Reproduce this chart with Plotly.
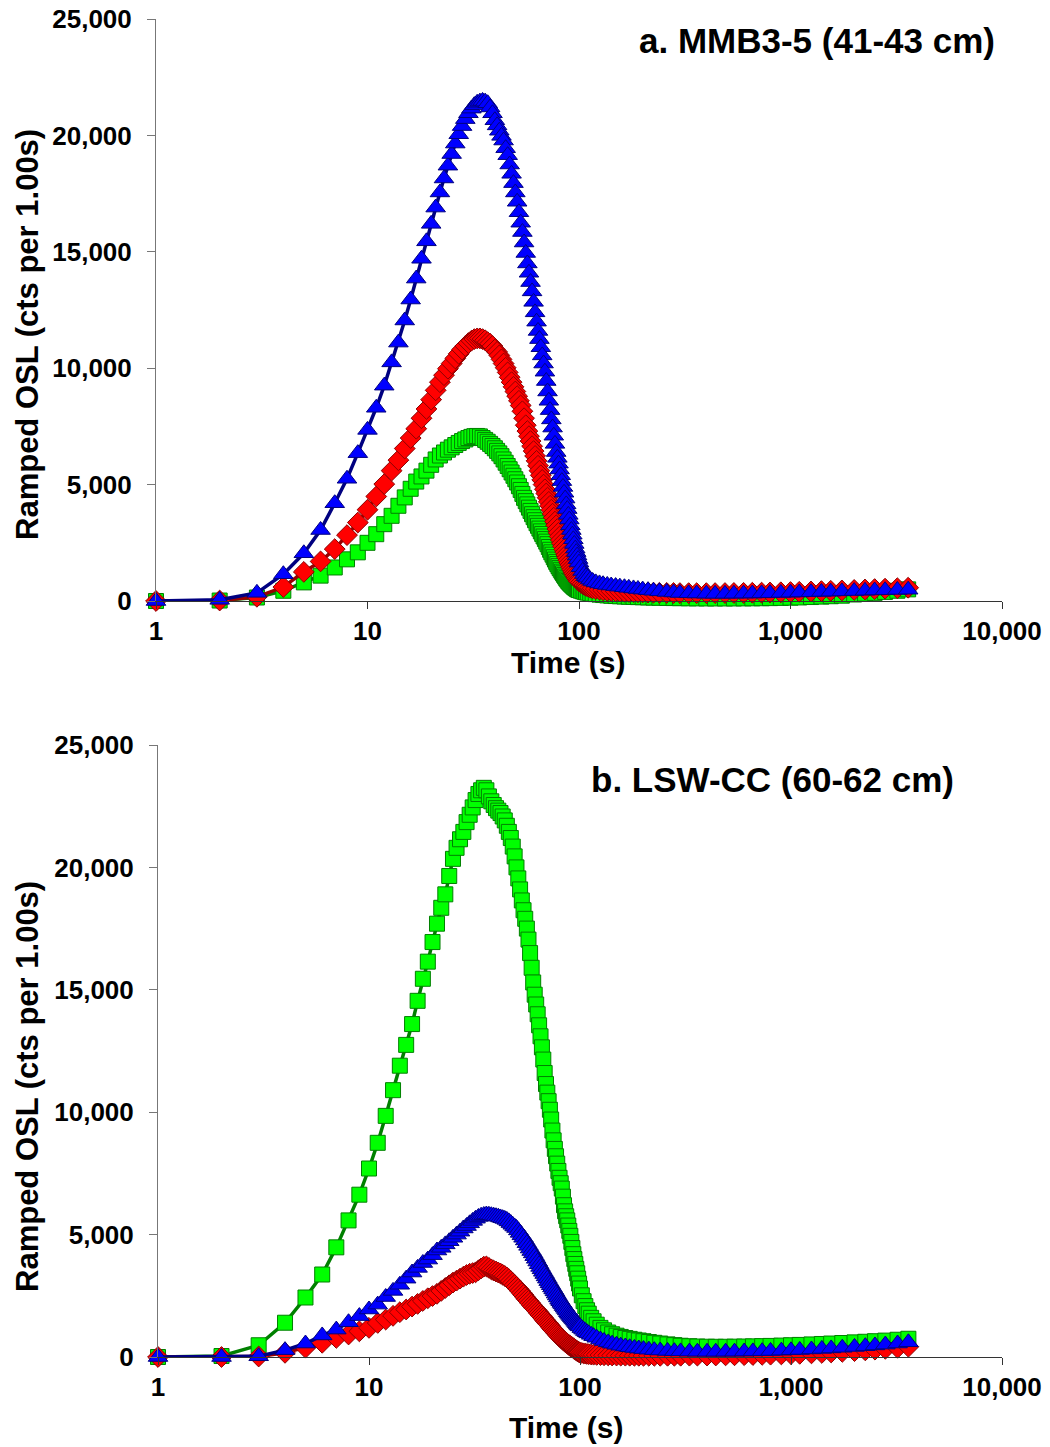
import plotly.graph_objects as go

# ---------------- data ----------------
# time in seconds: every second 1..100, then a sparser tail to 3600 s
T_MAIN = list(range(1, 101))
T_TAIL = [102, 104, 106, 108, 110, 113, 116, 120, 125, 130,
          136, 142, 149, 156, 164, 172, 181, 190, 200, 212,
          225, 240, 260, 280, 300, 330, 360, 400, 440, 490,
          540, 600, 660, 730, 800, 900, 1000, 1100, 1250, 1400,
          1550, 1750, 2000, 2250, 2500, 2800, 3200, 3600]

# Panel a. MMB3-5 (41-43 cm)
A_BLUE_MAIN = [0, 50, 350, 1150, 2050, 3050, 4200, 5250, 6350, 7350,
               8300, 9250, 10250, 11100, 12050, 12950, 13850, 14700, 15450, 16200,
               16900, 17550, 18150, 18700, 19200, 19650, 20050, 20400, 20700, 20950,
               21150, 21300, 21400, 21450, 21480, 21450, 21380, 21200, 20950, 20650,
               20430, 20200, 19980, 19780, 19450, 19150, 18750, 18350, 17950, 17550,
               17150, 16700, 16250, 15850, 15400, 14950, 14500, 14100, 13700, 13300,
               12850, 12400, 12000, 11600, 11250, 10900, 10550, 10200, 9850, 9450,
               9000, 8600, 8200, 7800, 7450, 7100, 6750, 6400, 6150, 5900,
               5650, 5400, 5150, 4900, 4650, 4400, 4150, 3950, 3700, 3500,
               3250, 3050, 2850, 2650, 2450, 2250, 2100, 1950, 1800, 1650]
A_BLUE_TAIL = [1450, 1290, 1160, 1060, 1000, 920, 860, 800, 755, 720,
               690, 665, 640, 615, 590, 565, 540, 515, 490, 465,
               440, 415, 390, 365, 345, 330, 320, 312, 308, 308,
               310, 315, 320, 327, 335, 345, 355, 365, 378, 390,
               400, 413, 427, 440, 452, 463, 475, 485]

A_RED_MAIN = [0, 20, 180, 600, 1250, 1700, 2230, 2830, 3370, 3920,
              4490, 5020, 5600, 6050, 6550, 7000, 7400, 7850, 8250, 8650,
              9050, 9400, 9700, 9980, 10200, 10420, 10620, 10800, 10950, 11080,
              11180, 11250, 11280, 11280, 11250, 11200, 11120, 11050, 10950, 10800,
              10700, 10550, 10380, 10200, 10020, 9820, 9610, 9400, 9200, 9000,
              8800, 8600, 8400, 8150, 7850, 7550, 7300, 7080, 6870, 6650,
              6440, 6230, 6020, 5810, 5600, 5400, 5200, 5000, 4800, 4620,
              4440, 4260, 4090, 3920, 3750, 3580, 3410, 3250, 3090, 2930,
              2770, 2620, 2480, 2350, 2220, 2100, 1980, 1860, 1750, 1640,
              1540, 1440, 1350, 1260, 1180, 1100, 1030, 960, 900, 850]
A_RED_TAIL = [790, 735, 690, 650, 615, 575, 545, 515, 485, 462,
              442, 428, 415, 404, 395, 387, 380, 374, 368, 362,
              357, 352, 347, 343, 340, 338, 337, 338, 340, 342,
              345, 349, 354, 360, 366, 375, 385, 395, 410, 425,
              438, 455, 475, 495, 512, 530, 550, 570]

A_GREEN_MAIN = [0, 20, 150, 440, 800, 1090, 1440, 1790, 2090, 2500,
                2870, 3300, 3660, 4090, 4450, 4820, 5130, 5350, 5600, 5850,
                6080, 6250, 6380, 6500, 6600, 6700, 6790, 6870, 6940, 7000,
                7050, 7080, 7090, 7070, 7000, 6920, 6840, 6750, 6660, 6560,
                6450, 6340, 6220, 6080, 5940, 5800, 5660, 5520, 5380, 5230,
                5090, 4930, 4770, 4600, 4430, 4290, 4150, 4010, 3870, 3730,
                3600, 3470, 3340, 3230, 3110, 2990, 2880, 2770, 2660, 2550,
                2440, 2320, 2200, 2090, 1990, 1880, 1780, 1680, 1590, 1500,
                1420, 1340, 1260, 1190, 1120, 1050, 980, 920, 860, 810,
                760, 720, 680, 640, 600, 570, 540, 510, 490, 470]
A_GREEN_TAIL = [445, 420, 398, 378, 360, 338, 318, 296, 274, 256,
                240, 226, 213, 202, 192, 183, 175, 167, 160, 153,
                146, 139, 132, 126, 121, 116, 112, 110, 109, 109,
                110, 112, 115, 119, 124, 133, 143, 153, 170, 188,
                205, 228, 280, 315, 350, 390, 440, 500]

# Panel b. LSW-CC (60-62 cm)
B_GREEN_MAIN = [0, 40, 480, 1400, 2430, 3370, 4480, 5580, 6630, 7700,
                8750, 9850, 10900, 11900, 12750, 13600, 14550, 15450, 16150, 16950,
                17700, 18350, 18900, 19650, 20350, 20800, 21150, 21450, 21850, 22150,
                22450, 22750, 23000, 23150, 23250, 23150, 22900, 22700, 22550, 22420,
                22320, 22220, 22080, 21920, 21700, 21450, 21200, 20850, 20450, 20000,
                19550, 19100, 18650, 18250, 17900, 17500, 17050, 16500, 15900, 15300,
                14800, 14400, 14000, 13550, 13100, 12650, 12150, 11600, 11150, 10800,
                10450, 10100, 9700, 9250, 8850, 8500, 8200, 7900, 7600, 7320,
                7100, 6880, 6550, 6200, 5950, 5750, 5580, 5370, 5150, 4950,
                4700, 4450, 4200, 4000, 3800, 3600, 3420, 3200, 3000, 2800]
B_GREEN_TAIL = [2520, 2280, 2080, 1910, 1770, 1600, 1460, 1320, 1190, 1090,
                1000, 930, 870, 820, 775, 740, 705, 675, 645, 612,
                580, 550, 515, 485, 460, 440, 428, 420, 417, 418,
                422, 428, 435, 444, 453, 466, 480, 494, 513, 532,
                550, 572, 598, 622, 645, 670, 705, 745]

B_RED_MAIN = [0, 0, 20, 170, 380, 580, 780, 920, 1050, 1190,
              1390, 1530, 1680, 1830, 1940, 2060, 2170, 2290, 2400, 2490,
              2580, 2700, 2820, 2930, 3040, 3120, 3200, 3280, 3350, 3400,
              3430, 3460, 3540, 3620, 3690, 3700, 3640, 3580, 3530, 3490,
              3450, 3410, 3360, 3310, 3250, 3180, 3100, 3020, 2940, 2860,
              2780, 2700, 2610, 2530, 2440, 2360, 2290, 2210, 2130, 2060,
              1990, 1930, 1860, 1790, 1720, 1660, 1590, 1520, 1460, 1400,
              1340, 1280, 1210, 1150, 1100, 1040, 990, 940, 880, 830,
              790, 740, 700, 660, 620, 580, 550, 510, 480, 450,
              420, 390, 360, 330, 300, 270, 240, 220, 200, 180]
B_RED_TAIL = [165, 150, 137, 125, 115, 103, 94, 85, 77, 71,
              66, 62, 59, 56, 54, 52, 51, 50, 49, 49,
              49, 49, 50, 51, 52, 54, 56, 59, 62, 66,
              70, 75, 81, 88, 95, 106, 118, 130, 148, 166,
              185, 210, 240, 270, 300, 335, 375, 420]

B_BLUE_MAIN = [0, 0, 30, 280, 550, 880, 1120, 1420, 1670, 1940,
               2140, 2450, 2700, 2950, 3200, 3450, 3640, 3840, 3980, 4160,
               4350, 4460, 4600, 4730, 4870, 5000, 5120, 5250, 5350, 5460,
               5560, 5650, 5720, 5770, 5800, 5820, 5810, 5790, 5770, 5750,
               5730, 5700, 5670, 5640, 5600, 5540, 5470, 5400, 5330, 5270,
               5170, 5070, 4970, 4870, 4760, 4650, 4540, 4430, 4330, 4230,
               4120, 4010, 3900, 3790, 3680, 3580, 3480, 3390, 3290, 3200,
               3100, 3010, 2930, 2840, 2760, 2680, 2590, 2510, 2430, 2340,
               2280, 2210, 2150, 2080, 2020, 1960, 1900, 1830, 1770, 1720,
               1670, 1620, 1570, 1530, 1480, 1430, 1380, 1330, 1290, 1250]
B_BLUE_TAIL = [1180, 1120, 1060, 1010, 965, 905, 850, 785, 715, 655,
               595, 545, 500, 462, 428, 398, 370, 345, 322, 300,
               280, 263, 248, 237, 229, 221, 216, 213, 213, 215,
               218, 223, 229, 237, 246, 259, 273, 287, 308, 330,
               350, 377, 410, 442, 472, 507, 552, 600]

X_TICKS = [1, 10, 100, 1000, 10000]
X_TICKTEXT = ["1", "10", "100", "1,000", "10,000"]
Y_TICKS = [0, 5000, 10000, 15000, 20000, 25000]
Y_TICKTEXT = ["0", "5,000", "10,000", "15,000", "20,000", "25,000"]

PANEL_TITLES = ["a. MMB3-5 (41-43 cm)", "b. LSW-CC (60-62 cm)"]
X_TITLE = "Time (s)"
Y_TITLE = "Ramped OSL (cts per 1.00s)"

# ---------------- styling ----------------
FONT = "Liberation Sans, Arial, Helvetica, sans-serif"
W, H = 1050, 1447
ML, MR, MT, MB = 156, 48, 19, 1447 - 1357
PW = W - ML - MR
PH = H - MT - MB


def py(pix):  # screen pixel row -> paper y
    return (H - MB - pix) / PH


def px(pix):  # screen pixel column -> paper x
    return (pix - ML) / PW


STYLE = {
    "green": dict(symbol="square", size=15, fill="#00FF00", edge="#008000", line="#008000"),
    "red": dict(symbol="diamond", size=16, fill="#FF0000", edge="#8B0000", line="#990000"),
    "blue": dict(symbol="triangle-up", size=17, fill="#0000FF", edge="#000080", line="#000080"),
}

fig = go.Figure()

panels = [
    ("x", "y", [("green", A_GREEN_MAIN, A_GREEN_TAIL), ("red", A_RED_MAIN, A_RED_TAIL),
                ("blue", A_BLUE_MAIN, A_BLUE_TAIL)]),
    ("x2", "y2", [("green", B_GREEN_MAIN, B_GREEN_TAIL), ("red", B_RED_MAIN, B_RED_TAIL),
                  ("blue", B_BLUE_MAIN, B_BLUE_TAIL)]),
]
for xa, ya, series in panels:
    for name, main, tail in series:
        s = STYLE[name]
        fig.add_trace(go.Scatter(
            x=T_MAIN + T_TAIL, y=main + tail, xaxis=xa, yaxis=ya,
            mode="lines+markers", cliponaxis=False, showlegend=False,
            line=dict(color=s["line"], width=3.5),
            marker=dict(symbol=s["symbol"], size=s["size"], color=s["fill"],
                        line=dict(color=s["edge"], width=1)),
        ))

tickfont = dict(family=FONT, size=26, color="black", weight="bold")


def xaxis(domain, anchor, overlay=None):
    d = dict(type="log", range=[0, 4], domain=domain, anchor=anchor, automargin=False,
             tickvals=X_TICKS, ticktext=X_TICKTEXT, tickfont=tickfont,
             showgrid=False, zeroline=False, ticklen=7, tickwidth=1, tickcolor="#333",
             showline=True, linecolor="#333", linewidth=1)
    if overlay:
        d.update(overlaying=overlay, ticks="inside", showticklabels=False, showline=False)
    else:
        d.update(ticks="outside", ticklabelstandoff=0)
    return d


def yaxis(domain, anchor, overlay=None):
    d = dict(range=[0, 25000], domain=domain, anchor=anchor, automargin=False,
             tickvals=Y_TICKS, ticktext=Y_TICKTEXT, tickfont=tickfont,
             showgrid=False, zeroline=False, ticklen=8, tickwidth=1, tickcolor="#777",
             showline=True, linecolor="#777", linewidth=1)
    if overlay:
        d.update(overlaying=overlay, ticks="inside", showticklabels=False, showline=False)
    else:
        d.update(ticks="outside", ticklabelstandoff=10)
    return d


dom_a = [py(601), 1.0]
dom_b = [0.0, py(745)]
xdom_b = [px(158), 1.0]

fig.update_layout(
    width=W, height=H,
    margin=dict(l=ML, r=MR, t=MT, b=MB, autoexpand=False),
    paper_bgcolor="white", plot_bgcolor="white",
    font=dict(family=FONT, color="black"),
    xaxis=xaxis([0, 1], "y"), yaxis=yaxis(dom_a, "x"),
    xaxis2=xaxis(xdom_b, "y2"), yaxis2=yaxis(dom_b, "x2"),
    xaxis3=xaxis([0, 1], "y", overlay="x"), yaxis3=yaxis(dom_a, "x", overlay="y"),
    xaxis4=xaxis(xdom_b, "y2", overlay="x2"), yaxis4=yaxis(dom_b, "x2", overlay="y2"),
)

ann = []
title_font = dict(family=FONT, size=35, color="black", weight="bold")
x_title_font = dict(family=FONT, size=30, color="black", weight="bold")
y_title_font = dict(family=FONT, size=31, color="black", weight="bold")
ann.append(dict(text=PANEL_TITLES[0], x=px(997), y=py(40), xref="paper", yref="paper",
                xanchor="right", yanchor="middle", showarrow=False, font=title_font))
ann.append(dict(text=PANEL_TITLES[1], x=px(956), y=py(779), xref="paper", yref="paper",
                xanchor="right", yanchor="middle", showarrow=False, font=title_font))
for xc, yc in [(568, 662), (566, 1427)]:
    ann.append(dict(text=X_TITLE, x=px(xc), y=py(yc), xref="paper", yref="paper",
                    xanchor="center", yanchor="middle", showarrow=False, font=x_title_font))
for yc in [335, 1087]:
    ann.append(dict(text=Y_TITLE, x=px(27), y=py(yc), xref="paper", yref="paper",
                    xanchor="center", yanchor="middle", textangle=-90, showarrow=False,
                    font=y_title_font))
fig.update_layout(annotations=ann)

fig.write_html("out.html")
